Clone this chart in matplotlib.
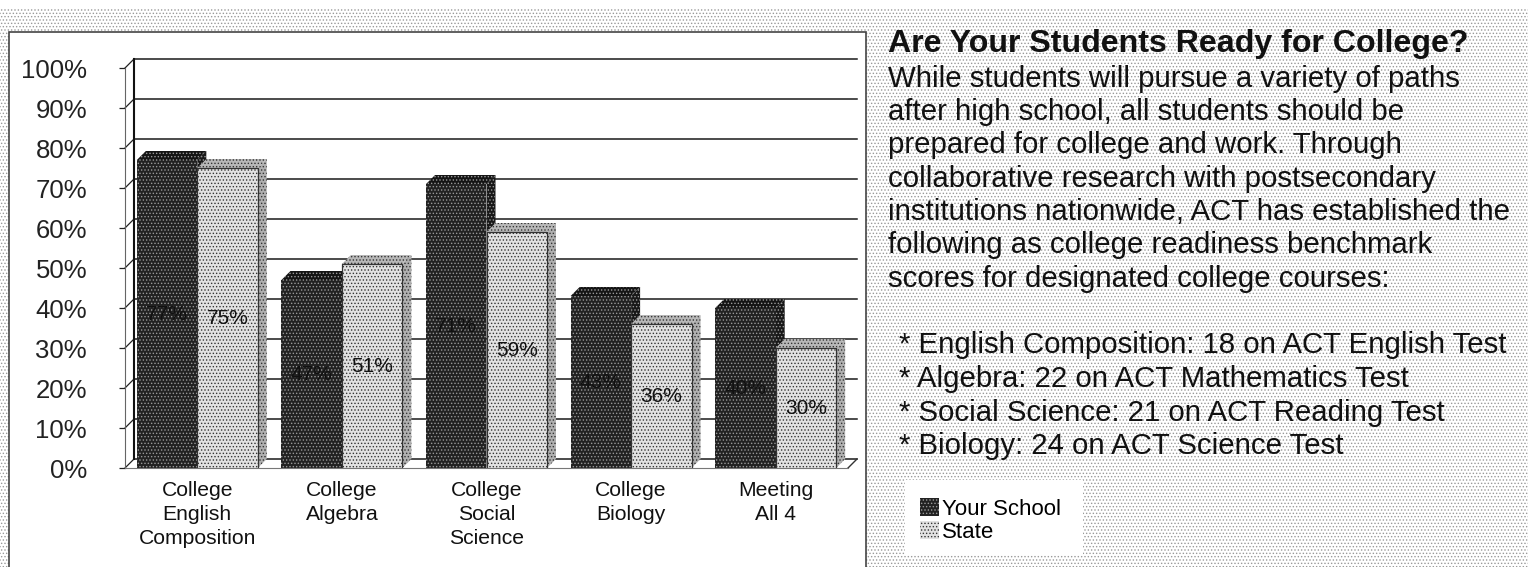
import matplotlib
matplotlib.use("Agg")
import matplotlib.pyplot as plt
from matplotlib.patches import Rectangle

# chart data
categorias = ["College\nEnglish\nComposition", "College\nAlgebra", "College\nSocial\nScience", "College\nBiology", "Meeting\nAll 4"]
your_school = [77, 47, 71, 43, 40]
state = [75, 51, 59, 36, 30]
y_ticks = [0, 10, 20, 30, 40, 50, 60, 70, 80, 90, 100]
series_names = ["Your School", "State"]

# text panel
titulo = "Are Your Students Ready for College?"
parrafo = ["While students will pursue a variety of paths",
           "after high school, all students should be",
           "prepared for college and work. Through",
           "collaborative research with postsecondary",
           "institutions nationwide, ACT has established the",
           "following as college readiness benchmark",
           "scores for designated college courses:"]
puntos = ["* English Composition: 18 on ACT English Test",
          "* Algebra: 22 on ACT Mathematics Test",
          "* Social Science: 21 on ACT Reading Test",
          "* Biology: 24 on ACT Science Test"]

W, H = 1528, 567
plt.rcParams["font.family"] = ["Liberation Sans", "DejaVu Sans"]
plt.rcParams["hatch.linewidth"] = 0.6

fig = plt.figure(figsize=(W / 100, H / 100), dpi=100, facecolor="white")


# rectangle given in pixels from the top left of the picture
def caja(x0, y0, x1, y1, **kw):
    r = Rectangle((x0 / W, 1 - y1 / H), (x1 - x0) / W, (y1 - y0) / H,
                  transform=fig.transFigure, **kw)
    fig.add_artist(r)
    return r


def texto(x, y, s, **kw):
    fig.text(x / W, 1 - y / H, s, va="baseline", ha="left", color="#111111", **kw)


# scanned halftone background
caja(0, 8, W, H, facecolor="white", edgecolor="#999999", hatch=".....", lw=0, zorder=0)
caja(9, 32, 866, H + 5, facecolor="white", edgecolor="#444444", lw=1.2, zorder=1)
caja(905, 480, 1083, 555, facecolor="white", edgecolor="none", lw=0, zorder=1)

ax = fig.add_axes([125 / W, 1 - 468 / H, (848 - 125) / W, 400 / H], zorder=2)
ax.patch.set_visible(False)
ax.set_xlim(-0.5, 4.5)
ax.set_ylim(0, 100)

# depth of the 3D look, in data units
dx = 9 / 144.6
dy = 2.25
ancho = 0.418

# back wall
for v in y_ticks:
    ax.plot([-0.5 + dx, 4.5 + dx], [v + dy, v + dy], color="#1a1a1a", lw=1.1, zorder=1, clip_on=False)
    ax.plot([-0.5, -0.5 + dx], [v, v + dy], color="#222222", lw=0.9, zorder=1, clip_on=False)
ax.plot([-0.5 + dx, -0.5 + dx], [dy, 100 + dy], color="#111111", lw=1.5, zorder=1, clip_on=False)
ax.plot([4.5, 4.5 + dx], [0, dy], color="#333333", lw=1.0, zorder=1, clip_on=False)


def barra_3d(x, vals, color, borde, tapa, lado, z):
    barras = ax.bar(x, vals, ancho, color=color, edgecolor=borde, hatch=".....", lw=0, zorder=z + 0.2)
    for xi, v in zip(x, vals):
        xl, xr = xi - ancho / 2, xi + ancho / 2
        ax.fill([xl, xl + dx, xr + dx, xr], [v, v + dy, v + dy, v],
                facecolor=tapa, edgecolor=borde, hatch=".....", lw=0, zorder=z, clip_on=False)
        ax.fill([xr, xr + dx, xr + dx, xr], [0, dy, v + dy, v],
                facecolor=lado, edgecolor=borde, hatch=".....", lw=0, zorder=z, clip_on=False)
    return barras


pos = list(range(len(categorias)))
b1 = barra_3d([p - ancho / 2 for p in pos], your_school, "#222222", "#9a9a9a", "#141414", "#181818", 3)
b2 = barra_3d([p + ancho / 2 for p in pos], state, "#e2e2e2", "#333333", "#b8b8b8", "#b0b0b0", 4)

# dark edge of the light bars
for r in b2:
    ax.plot([r.get_x(), r.get_x(), r.get_x() + ancho, r.get_x() + ancho],
            [0, r.get_height(), r.get_height(), 0], color="#333333", lw=0.9, zorder=4.5)

# value labels sit halfway up each bar
for p, a, b in zip(pos, your_school, state):
    ax.text(p - ancho / 2, a / 2, f"{a}%", ha="center", va="center", fontsize=15, color="#111111", zorder=6)
    ax.text(p + ancho / 2, b / 2, f"{b}%", ha="center", va="center", fontsize=15, color="#111111", zorder=6)

ax.set_yticks(y_ticks)
ax.set_yticklabels([f"{v}%" for v in y_ticks], fontsize=18.5, color="#222222")
ax.set_xticks(pos)
ax.set_xticklabels(categorias, fontsize=15.2, color="#111111", linespacing=1.36)
ax.tick_params(axis="y", length=4.3, width=0.9, color="#222222", pad=23)
ax.tick_params(axis="x", length=0, pad=9)
for lado_eje in ["top", "right"]:
    ax.spines[lado_eje].set_visible(False)
ax.spines["left"].set_color("#666666")
ax.spines["bottom"].set_color("#777777")
ax.spines["bottom"].set_zorder(7)

# right hand text
texto(888, 52, titulo, fontsize=23.1, fontweight="bold", zorder=5)
for y, linea in zip([87, 120, 153, 187, 220, 253, 287], parrafo):
    texto(888, y, linea, fontsize=21.2, zorder=5)
for y, linea in zip([353, 387, 421, 454], puntos):
    texto(899, y, linea, fontsize=21.2, zorder=5)

ley = fig.legend([b1, b2], series_names, loc="upper left", bbox_to_anchor=(920 / W, 1 - 498 / H),
                 frameon=False, fontsize=16, handlelength=0.85, handleheight=0.9,
                 handletextpad=0.15, labelspacing=0.05, borderpad=0, borderaxespad=0)
ley.set_zorder(5)

fig.savefig("out.png", dpi=100)
